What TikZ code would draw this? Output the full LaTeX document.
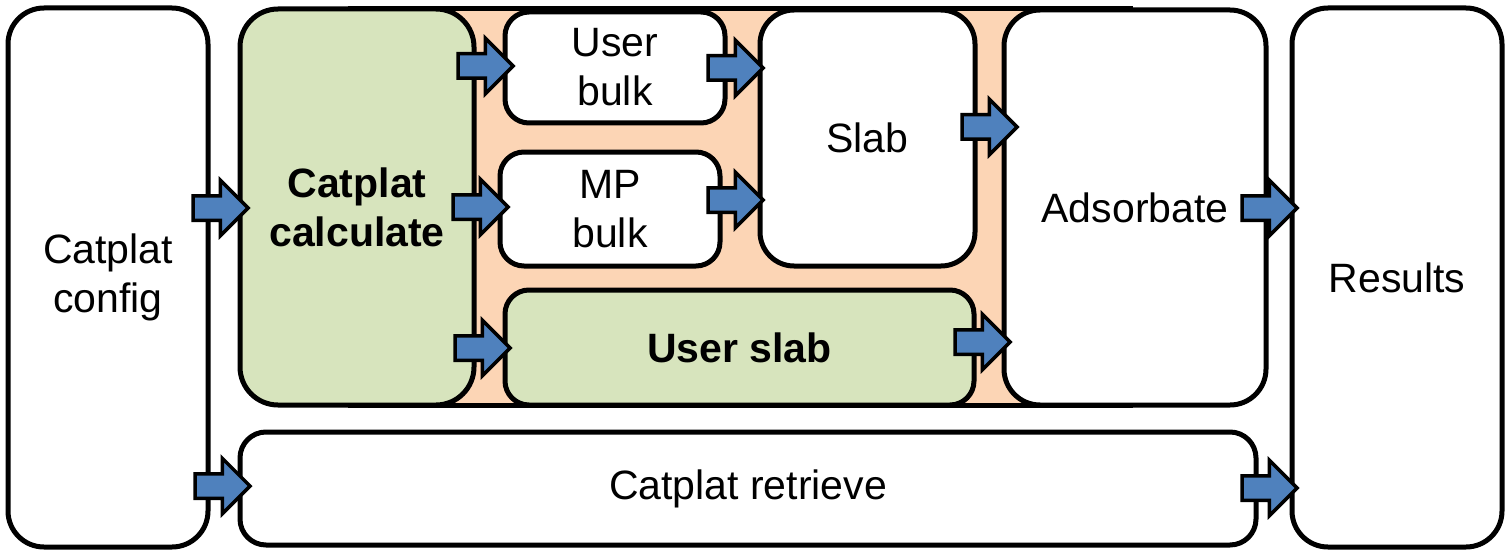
\documentclass[tikz,border=0pt]{standalone}
\usepackage{fontspec}
\setmainfont{Liberation Sans}
\usetikzlibrary{shapes.arrows}
\definecolor{arrblue}{HTML}{4F81BD}
\definecolor{boxgreen}{HTML}{D7E4BD}
\definecolor{bgorange}{HTML}{FCD5B5}
\tikzset{
  box/.style={draw=black, line width=5pt, fill=white, inner sep=0pt, align=center,
    font=\fontsize{41}{49}\selectfont},
  greenbox/.style={box, fill=boxgreen, font=\fontsize{41}{49}\selectfont\bfseries},
  barrow/.style={shape=single arrow, draw=black, line width=3.5pt, fill=arrblue,
    inner sep=0pt, inner ysep=10.5pt, minimum height=55pt, minimum width=52pt,
    single arrow head extend=15.5pt, anchor=tip},
}
\begin{document}
\begin{tikzpicture}[x={(1pt,0)}, y={(0,-1pt)}]
\useasboundingbox (0,0) rectangle (1512,559);
% orange background band
\draw[line width=5pt, fill=bgorange] (350,9) rectangle (1130,405);
% boxes
\node[box, rounded corners=36pt, minimum width=200pt, minimum height=539pt] (config) at (108,277.5) {Catplat\\config};
\node[greenbox, rounded corners=38pt, minimum width=234pt, minimum height=396pt] (calc) at (357,207) {Catplat\\calculate};
\node[box, rounded corners=24pt, minimum width=220pt, minimum height=111pt] (ubulk) at (615,67.5) {User\\bulk};
\node[box, rounded corners=24pt, minimum width=220pt, minimum height=114pt] (mpbulk) at (610,209) {MP\\bulk};
\node[box, rounded corners=34pt, minimum width=215pt, minimum height=256pt] (slab) at (867.5,138) {Slab};
\node[greenbox, rounded corners=24pt, minimum width=469pt, minimum height=115pt] (uslab) at (739.5,347.5) {User slab};
\node[box, rounded corners=36pt, minimum width=262pt, minimum height=395pt] (ads) at (1135,207.5) {Adsorbate};
\node[box, rounded corners=26pt, minimum width=1016pt, minimum height=113pt] (retr) at (748,488.5) {Catplat retrieve};
\node[box, rounded corners=36pt, minimum width=210pt, minimum height=539pt] (res) at (1397,277.5) {Results};
% block arrows
\node[barrow] (a1) at ([xshift=13pt]calc.west |- 0,208) {};
\node[barrow] (a2) at ([xshift=15pt]retr.west |- 0,486) {};
\node[barrow] (a3) at ([xshift=13pt]ubulk.west |- 0,66) {};
\node[barrow] (a4) at ([xshift=13pt]mpbulk.west |- 0,207) {};
\node[barrow] (a5) at ([xshift=10pt]uslab.west |- 0,348) {};
\node[barrow] (a6) at ([xshift=8pt]slab.west |- 0,68) {};
\node[barrow] (a7) at ([xshift=8pt]slab.west |- 0,200) {};
\node[barrow] (a8) at ([xshift=18pt]ads.west |- 0,127) {};
\node[barrow] (a9) at ([xshift=11pt]ads.west |- 0,342) {};
\node[barrow] (a10) at ([xshift=10pt]res.west |- 0,208) {};
\node[barrow] (a11) at ([xshift=10pt]res.west |- 0,488) {};
\end{tikzpicture}
\end{document}
